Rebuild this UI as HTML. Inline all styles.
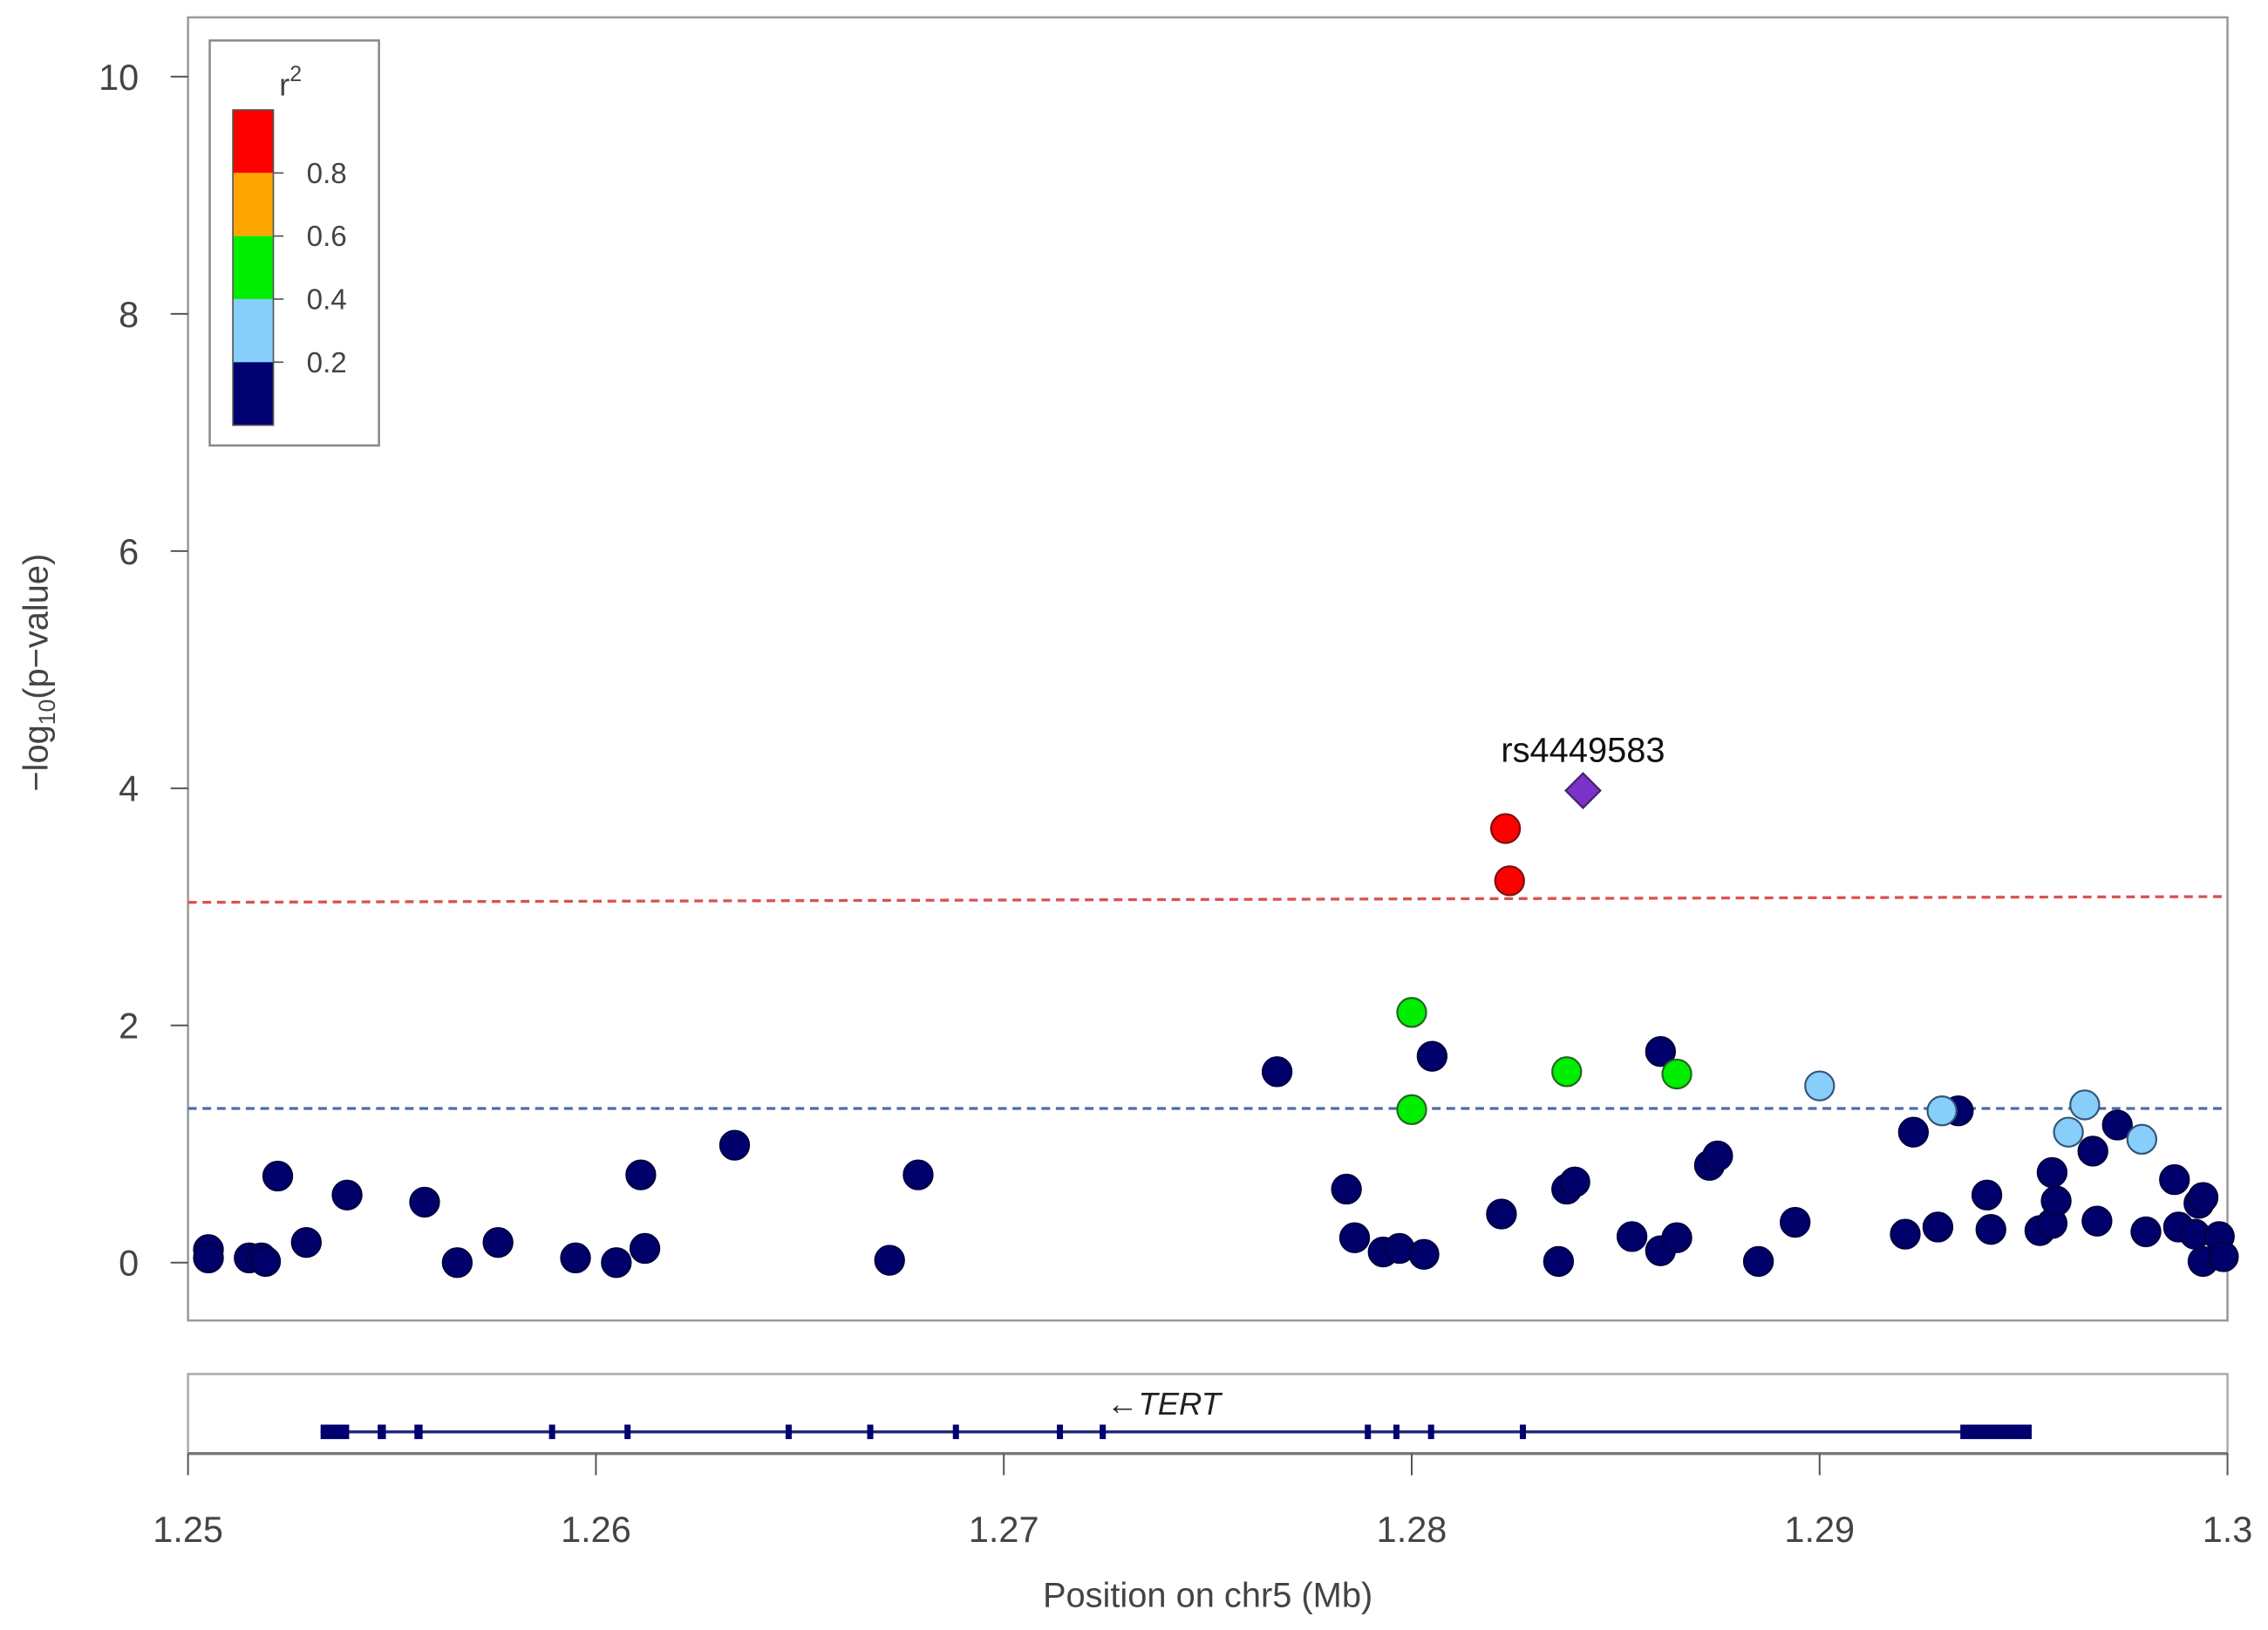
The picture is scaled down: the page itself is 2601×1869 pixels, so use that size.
<!DOCTYPE html>
<html><head><meta charset="utf-8"><style>
html,body{margin:0;padding:0;background:#fff;}
svg{display:block;font-family:"Liberation Sans",sans-serif;}
</style></head><body>
<svg id="chart" width="2601" height="1869" viewBox="0 0 1568 1127" preserveAspectRatio="none" xmlns="http://www.w3.org/2000/svg">
<g id="plot"></g>
</svg>
<script>
const navyX=[1.2505,1.2505,1.2515,1.2518,1.2519,1.2522,1.2529,1.2539,1.2558,1.2566,1.2576,1.2595,1.2605,1.2611,1.2612,1.2634,1.2672,1.2679,1.2767,1.2784,1.2786,1.2793,1.2797,1.2803,1.2805,1.2822,1.2836,1.2838,1.2840,1.2854,1.2861,1.2861,1.2865,1.2873,1.2875,1.2885,1.2894,1.2921,1.2923,1.2929,1.2934,1.2941,1.2942,1.2954,1.2957,1.2957,1.2958,1.2967,1.2968,1.2973,1.2980,1.2987,1.2988,1.2992,1.2993,1.2994,1.2994,1.2998,1.2999];
const navyY=[0.11,0.04,0.04,0.04,0.01,0.73,0.17,0.57,0.51,0.00,0.17,0.04,0.00,0.74,0.12,0.99,0.02,0.74,1.61,0.62,0.21,0.09,0.12,0.07,1.74,0.41,0.01,0.62,0.68,0.22,1.78,0.10,0.21,0.82,0.90,0.01,0.34,0.24,1.10,0.30,1.28,0.57,0.28,0.27,0.33,0.76,0.52,0.94,0.35,1.16,0.26,0.70,0.30,0.24,0.50,0.55,0.01,0.22,0.05];
const lightX=[1.2900,1.2930,1.2961,1.2965,1.2979];
const lightY=[1.49,1.28,1.10,1.33,1.04];
const greenX=[1.2800,1.2800,1.2838,1.2865];
const greenY=[2.11,1.29,1.61,1.59];
const redX=[1.2823,1.2824];
const redY=[3.66,3.22];
const leadX=[1.2842];
const leadY=[3.98];
const leadLabel="rs4449583";
const xTicks=[1.25,1.26,1.27,1.28,1.29,1.30];
const xTickLabels=["1.25","1.26","1.27","1.28","1.29","1.3"];
const yTicks=[0,2,4,6,8,10];
const exonStarts=[1.25325,1.25465,1.25555,1.25885,1.26070,1.26465,1.26665,1.26875,1.27130,1.27235,1.27885,1.27955,1.28040,1.28265,1.29345];
const exonEnds=[1.25395,1.25485,1.25575,1.25900,1.26085,1.26480,1.26680,1.26890,1.27145,1.27250,1.27900,1.27970,1.28055,1.28280,1.29520];
const geneStart=1.25325, geneEnd=1.29520;
const thresholds=[3.05,1.30];
const legendBreaks=["0.8","0.6","0.4","0.2"];
const legendColors=["#ff0000","#ffa500","#00ee00","#87cefa","#000070"];

const NS="http://www.w3.org/2000/svg";
const X0=130,X1=1540,Y0=873,PXU=82;
const xs=v=>X0+(v-1.25)/0.05*(X1-X0);
const ys=v=>Y0-v*PXU;
const g=document.getElementById('plot');
function mk(tag,at,parent){const e=document.createElementNS(NS,tag);for(const k in at)e.setAttribute(k,at[k]);(parent||g).appendChild(e);return e;}

// frame
let e=mk('rect',{x:130,y:12,width:1410,height:901,fill:'none',stroke:'#999','stroke-width':1.5});


// y ticks
yTicks.forEach(t=>{
  let l=mk('line',{x1:118,x2:130,y1:ys(t),y2:ys(t),stroke:'#555','stroke-width':1.2});
  
  
  let tx=mk('text',{x:96,y:ys(t)+9,'text-anchor':'end','font-size':25,fill:'#444'});
  tx.textContent=t;
  
  
});
let yt=mk('text',{x:0,y:0,'text-anchor':'middle','font-size':24,fill:'#444',transform:'translate(33,465) rotate(-90)'});
yt.innerHTML='−log<tspan font-size="16" dy="5">10</tspan><tspan dy="-5">(p−value)</tspan>';



// thresholds
let th1=mk('line',{x1:130,x2:1540,y1:ys(thresholds[0])+1,y2:ys(thresholds[0])-3,stroke:'#d9534f','stroke-width':2,'stroke-dasharray':'6,4'});


let th2=mk('line',{x1:130,x2:1540,y1:ys(thresholds[1]),y2:ys(thresholds[1]),stroke:'#4a6fa5','stroke-width':2,'stroke-dasharray':'6,4'});



function dots(xa,ya,fill,stroke,name){
  xa.forEach((x,i)=>{
    let c=mk('circle',{cx:xs(x),cy:ys(ya[i]),r:10,fill:fill,stroke:stroke,'stroke-width':1.3});
    
    
  });
}
dots(navyX,navyY,'#00006b','#000044','snp-point-low-ld');
dots(lightX,lightY,'#87cefa','#335577','snp-point-ld-0.2-0.4');
dots(greenX,greenY,'#00ee00','#226622','snp-point-ld-0.4-0.6');
dots(redX,redY,'#ff0000','#771111','snp-point-ld-0.8-1');
leadX.forEach((x,i)=>{
  const cx=xs(x),cy=ys(leadY[i]);
  let d=mk('polygon',{points:`${cx},${cy-12} ${cx+12},${cy} ${cx},${cy+12} ${cx-12},${cy}`,fill:'#7b32c8',stroke:'#442266','stroke-width':1.3});
  
  
  let t=mk('text',{x:cx,y:cy-20,'text-anchor':'middle','font-size':24,fill:'#111'});
  t.textContent=leadLabel;
  
  
});

// legend
let lg=mk('rect',{x:145,y:28,width:117,height:280,fill:'#fff',stroke:'#888','stroke-width':1.5});


legendColors.forEach((c,i)=>{
  let r=mk('rect',{x:161,y:76+i*43.6,width:28,height:43.6,fill:c});
  
  
});
mk('rect',{x:161,y:76,width:28,height:218,fill:'none',stroke:'#555','stroke-width':1});
legendBreaks.forEach((b,i)=>{
  const y=76+(i+1)*43.6;
  mk('line',{x1:189,x2:196,y1:y,y2:y,stroke:'#555','stroke-width':1});
  let t=mk('text',{x:212,y:y+7,'font-size':20,fill:'#444'});
  t.textContent=b;
  
  
});
let rt=mk('text',{x:193,y:66,'font-size':22,fill:'#444'});
rt.innerHTML='r<tspan font-size="15" dy="-10">2</tspan>';



// gene panel
let gp=mk('rect',{x:130,y:950,width:1410,height:55,fill:'#fff',stroke:'#aaa','stroke-width':1.5});


let gl=mk('line',{x1:xs(geneStart),x2:xs(geneEnd),y1:990,y2:990,stroke:'#22227a','stroke-width':2});


exonStarts.forEach((s,i)=>{
  let r=mk('rect',{x:xs(s),y:985,width:Math.max(3,xs(exonEnds[i])-xs(s)),height:10,fill:'#000070'});
  
  
});
let gt=mk('text',{x:765,y:978,'font-size':22,fill:'#222','font-style':'italic'});
gt.textContent='←TERT';



// x axis
let xa=mk('line',{x1:130,x2:1540,y1:1005,y2:1005,stroke:'#777','stroke-width':2});


xTicks.forEach((t,i)=>{
  let l=mk('line',{x1:xs(t),x2:xs(t),y1:1005,y2:1020,stroke:'#555','stroke-width':1.2});
  
  
  let tx=mk('text',{x:xs(t),y:1066,'text-anchor':'middle','font-size':25,fill:'#444'});
  tx.textContent=xTickLabels[i];
  
  
});
let xt=mk('text',{x:835,y:1111,'text-anchor':'middle','font-size':24,fill:'#444'});
xt.textContent='Position on chr5 (Mb)';


</script>
</body></html>
